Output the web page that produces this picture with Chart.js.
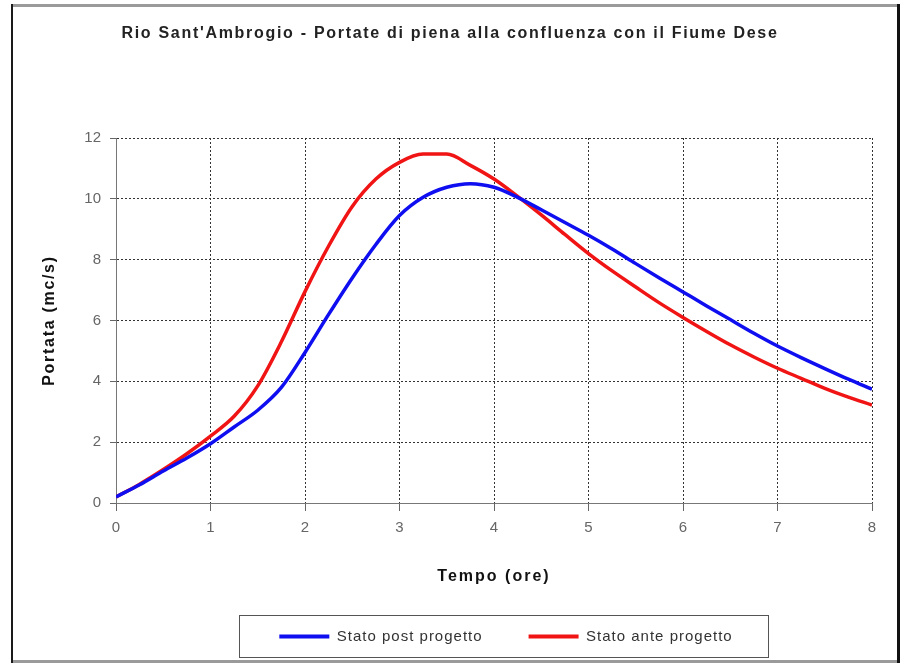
<!DOCTYPE html>
<html>
<head>
<meta charset="utf-8">
<script src="https://cdn.jsdelivr.net/npm/chart.js@4/dist/chart.umd.min.js"></script>
<style>
  html, body { margin: 0; padding: 0; background: #fff; }
  #wrap { width: 907px; height: 664px; position: relative; }
</style>
</head>
<body>
<div id="wrap"><canvas id="c" width="907" height="664"></canvas></div>
<script>
// Time (hours)
const tempo = [0, 0.25, 0.5, 0.75, 1, 1.25, 1.5, 1.75, 2, 2.25, 2.5, 2.75, 3, 3.25, 3.5, 3.75, 4,
               4.25, 4.5, 4.75, 5, 5.25, 5.5, 5.75, 6, 6.25, 6.5, 6.75, 7, 7.25, 7.5, 7.75, 8];
// Stato post progetto (blue)
const statoPost = [0.2, 0.6, 1.05, 1.48, 1.95, 2.5, 3.05, 3.8, 4.95, 6.2, 7.4, 8.5, 9.45, 10.05, 10.38, 10.5, 10.38,
                   10.05, 9.64, 9.22, 8.8, 8.35, 7.87, 7.4, 6.94, 6.48, 6.03, 5.58, 5.16, 4.78, 4.42, 4.07, 3.74];
// Stato ante progetto (red)
const statoAnte = [0.2, 0.62, 1.1, 1.62, 2.2, 2.85, 3.85, 5.3, 6.95, 8.45, 9.75, 10.65, 11.2, 11.47, 11.47, 11.1, 10.65,
                   10.08, 9.47, 8.83, 8.2, 7.63, 7.1, 6.58, 6.1, 5.64, 5.2, 4.8, 4.43, 4.1, 3.77, 3.48, 3.22];
const seriesNames = ['Stato post progetto', 'Stato ante progetto'];
const seriesColors = ['#0e0ef0', '#f01414'];
const xTicksStep = 1;
const yTicksStep = 2;

const FONT = "'Liberation Sans', Arial, sans-serif";

function withSpacing(obj, method, spacing) {
  if (!obj || !obj[method] || obj[method].__wrapped) return;
  const orig = obj[method];
  const w = function (...args) {
    const ctx = this.ctx;
    const prev = ctx.letterSpacing;
    ctx.letterSpacing = spacing;
    try { return orig.apply(this, args); } finally { ctx.letterSpacing = prev || '0px'; }
  };
  w.__wrapped = true;
  obj[method] = w;
}

const framePlugin = {
  id: 'frame',
  beforeLayout(chart) {
    withSpacing(chart.titleBlock, 'draw', '1.7px');
    withSpacing(chart.legend, 'fit', '1px');
    withSpacing(chart.legend, 'draw', '1px');
    if (chart.scales.x) withSpacing(chart.scales.x, 'drawTitle', '2px');
    if (chart.scales.y) withSpacing(chart.scales.y, 'drawTitle', '1.7px');
  },
  afterLayout(chart) {
    const lg = chart.legend;
    if (lg) { lg.left += 12; lg.right += 12; }
  },
  beforeDraw(chart) {
    const ctx = chart.ctx;
    ctx.save();
    ctx.fillStyle = '#fff';
    ctx.fillRect(0, 0, chart.width, chart.height);
    ctx.restore();
  },
  afterDraw(chart) {
    const ctx = chart.ctx;
    ctx.save();
    // outer frame
    ctx.fillStyle = '#9a9a9a';
    ctx.fillRect(11, 4, 889, 3);
    ctx.fillRect(11, 660, 889, 3);
    ctx.fillStyle = '#1a1a1a';
    ctx.fillRect(11, 4, 2, 659);
    ctx.fillStyle = '#111';
    ctx.fillRect(897, 4, 3, 659);
    // legend box around the library's legend items
    const lg = chart.legend;
    if (lg && lg.legendHitBoxes && lg.legendHitBoxes.length) {
      const hb = lg.legendHitBoxes;
      const first = hb[0], last = hb[hb.length - 1];
      const x1 = first.left - 40, x2 = last.left + last.width + 36;
      const y1 = first.top - 14, y2 = first.top + first.height + 13;
      ctx.strokeStyle = '#555';
      ctx.lineWidth = 1;
      ctx.strokeRect(Math.round(x1) + 0.5, Math.round(y1) + 0.5, Math.round(x2 - x1), Math.round(y2 - y1));
    }
    ctx.restore();
  }
};

const datasets = [statoPost, statoAnte].map((vals, i) => ({
  label: seriesNames[i],
  data: tempo.map((t, k) => ({ x: t, y: vals[k] })),
  borderColor: seriesColors[i],
  backgroundColor: seriesColors[i],
  borderWidth: 3.5,
  pointRadius: 0,
  fill: false,
  cubicInterpolationMode: 'monotone'
}));

new Chart(document.getElementById('c'), {
  type: 'line',
  data: { datasets },
  plugins: [framePlugin],
  options: {
    responsive: false,
    animation: false,
    devicePixelRatio: 1,
    layout: { padding: { top: 10, left: 28, right: 35, bottom: 10 } },
    plugins: {
      title: {
        display: true,
        text: "Rio Sant'Ambrogio - Portate di piena alla confluenza con il Fiume Dese",
        color: '#222',
        font: { family: FONT, size: 16, weight: 'bold' },
        padding: { top: 14.4, bottom: 94.4 }
      },
      legend: {
        position: 'bottom',
        fullSize: false,
        labels: {
          color: '#333',
          font: { family: FONT, size: 15 },
          boxWidth: 50,
          boxHeight: 4,
          padding: 46,
          generateLabels(chart) {
            const items = Chart.defaults.plugins.legend.labels.generateLabels(chart);
            items.forEach(it => { it.lineWidth = 0; });
            return items;
          }
        }
      },
      tooltip: { enabled: false }
    },
    scales: {
      x: {
        type: 'linear',
        min: 0, max: 8,
        afterFit(scale) { scale.height = 80; },
        ticks: { stepSize: xTicksStep, color: '#666', font: { family: FONT, size: 15 }, padding: 8 },
        grid: { color: '#333', lineWidth: 1, tickLength: 8, tickColor: '#666', tickBorderDash: [] },
        border: { display: true, color: '#777', width: 1, dash: [2, 2] },
        title: {
          display: true, text: 'Tempo (ore)', color: '#111',
          font: { family: FONT, size: 16, weight: 'bold' },
          padding: { top: 0, bottom: -3.6 }
        }
      },
      y: {
        min: 0, max: 12,
        afterFit(scale) { scale.width = 88; },
        ticks: { stepSize: yTicksStep, color: '#666', font: { family: FONT, size: 15 }, padding: 9 },
        grid: { color: '#333', lineWidth: 1, tickLength: 6, tickColor: '#666', tickBorderDash: [] },
        border: { display: true, color: '#777', width: 1, dash: [2, 2] },
        title: {
          display: true, text: 'Portata (mc/s)', color: '#111',
          font: { family: FONT, size: 16, weight: 'bold' },
          padding: { top: 11.9, bottom: 0 }
        }
      }
    }
  }
});
</script>
</body>
</html>
